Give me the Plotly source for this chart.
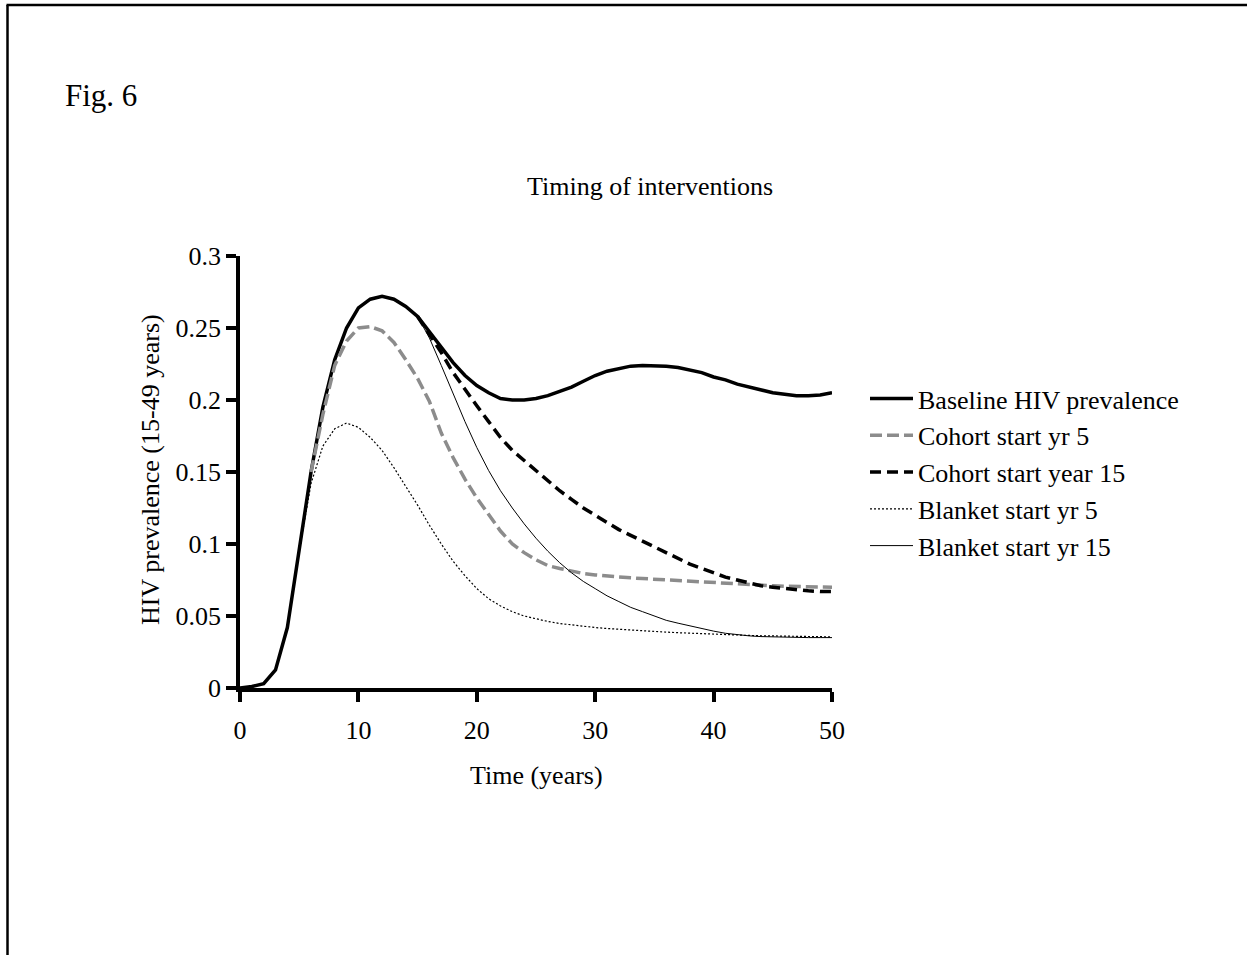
import plotly.graph_objects as go

# ---- data: HIV prevalence (15-49 years) by simulation year ----
years = list(range(0, 51))

baseline = [0, 0.001, 0.003, 0.0125, 0.042, 0.095, 0.15, 0.195, 0.228, 0.25,
            0.264, 0.27, 0.272, 0.27, 0.265, 0.258, 0.247, 0.236, 0.226, 0.217,
            0.21, 0.205, 0.201, 0.2, 0.2, 0.201, 0.203, 0.206, 0.209, 0.213,
            0.217, 0.22, 0.222, 0.2235, 0.224, 0.224, 0.2235, 0.2225, 0.221, 0.219,
            0.216, 0.214, 0.211, 0.209, 0.207, 0.205, 0.204, 0.203, 0.203, 0.2035,
            0.205]

years_from6 = list(range(6, 51))
cohort_yr5 = [0.15, 0.19, 0.224, 0.241, 0.25, 0.251, 0.248, 0.24, 0.228,
              0.215, 0.199, 0.177, 0.16, 0.145, 0.132, 0.12, 0.109, 0.1, 0.094,
              0.089, 0.085, 0.083, 0.081, 0.0795, 0.0785, 0.0777, 0.077, 0.0765, 0.076,
              0.0755, 0.075, 0.0745, 0.074, 0.0735, 0.073, 0.0726, 0.0722, 0.0718, 0.0714,
              0.071, 0.0707, 0.0704, 0.0702, 0.07, 0.07]

years_from5 = list(range(5, 51))
blanket_yr5 = [0.095, 0.142, 0.168, 0.18, 0.184, 0.181, 0.174, 0.165, 0.153, 0.14,
               0.127, 0.113, 0.1, 0.088, 0.078, 0.069, 0.062, 0.057, 0.053, 0.05,
               0.048, 0.0462, 0.0448, 0.0437, 0.0428, 0.042, 0.0413, 0.0407, 0.0402, 0.0397,
               0.0392, 0.0388, 0.0384, 0.038, 0.0376, 0.0373, 0.037, 0.0367, 0.0365, 0.0363,
               0.0361, 0.0359, 0.0358, 0.0357, 0.0356, 0.0355]

years_from15 = list(range(15, 51))
cohort_yr15 = [0.258, 0.246, 0.233, 0.219, 0.207, 0.196, 0.185, 0.174, 0.165, 0.158,
               0.151, 0.144, 0.137, 0.131, 0.125, 0.12, 0.115, 0.11, 0.106, 0.102,
               0.098, 0.094, 0.09, 0.086, 0.083, 0.08, 0.077, 0.075, 0.073, 0.071,
               0.07, 0.069, 0.068, 0.0675, 0.067, 0.067]
blanket_yr15 = [0.258, 0.243, 0.224, 0.204, 0.185, 0.167, 0.151, 0.137, 0.125, 0.114,
                0.104, 0.095, 0.087, 0.08, 0.074, 0.069, 0.064, 0.06, 0.056, 0.053,
                0.05, 0.047, 0.045, 0.043, 0.041, 0.0395, 0.038, 0.037, 0.0362, 0.0357,
                0.0354, 0.0352, 0.0351, 0.035, 0.035, 0.035]

x_ticks = [0, 10, 20, 30, 40, 50]
y_ticks = [0, 0.05, 0.1, 0.15, 0.2, 0.25, 0.3]
y_tick_labels = ["0", "0.05", "0.1", "0.15", "0.2", "0.25", "0.3"]

# ---- page geometry (pixels) ----
W, H = 1247, 955
L, R, T, B = 240, 415, 256, 267
PW, PH = W - L - R, H - T - B
FONT = "Liberation Serif, Times New Roman, serif"


def px_x(px):
    return (px - L) / PW


def px_y(py):
    return (H - B - py) / PH


series = [
    ("Baseline HIV prevalence", years, baseline, dict(color="black", width=3.5)),
    ("Cohort start yr 5", years_from6, cohort_yr5, dict(color="#8c8c8c", width=3.5, dash="12px,5px")),
    ("Cohort start year 15", years_from15, cohort_yr15, dict(color="black", width=3.5, dash="11px,6px")),
    ("Blanket start yr 5", years_from5, blanket_yr5, dict(color="black", width=1.2, dash="2px,2px")),
    ("Blanket start yr 15", years_from15, blanket_yr15, dict(color="black", width=1)),
]

fig = go.Figure()
for i, (name, xs, ys, line) in enumerate(series):
    fig.add_trace(go.Scatter(x=xs, y=ys, mode="lines", name=name, line=line,
                             legendgroup=f"g{i}", hoverinfo="skip"))

axis_common = dict(showline=True, linecolor="black", linewidth=3.5, ticks="outside",
                   ticklen=10, tickwidth=3.5, tickcolor="black", showgrid=False,
                   zeroline=False, tickfont=dict(family=FONT, size=26, color="black"))

fig.update_layout(
    width=W, height=H,
    margin=dict(l=L, r=R, t=T, b=B),
    paper_bgcolor="white", plot_bgcolor="white",
    font=dict(family=FONT, size=26, color="black"),
    xaxis=dict(range=[0, 50], tickvals=x_ticks, ticklabelstandoff=6, **axis_common),
    yaxis=dict(range=[0, 0.3], tickvals=y_ticks, ticktext=y_tick_labels,
               ticklabelstandoff=0, **axis_common),
    showlegend=True,
    legend=dict(x=px_x(865), y=px_y(375), xanchor="left", yanchor="top",
                font=dict(family=FONT, size=26, color="black"),
                bgcolor="rgba(0,0,0,0)", tracegroupgap=0, itemwidth=43),
    annotations=[
        dict(text="Fig. 6", xref="paper", yref="paper", x=px_x(63), y=px_y(95),
             xanchor="left", yanchor="middle", showarrow=False,
             font=dict(family=FONT, size=31, color="black")),
        dict(text="Timing of interventions", xref="paper", yref="paper",
             x=px_x(525), y=px_y(187), xanchor="left", yanchor="middle",
             showarrow=False, font=dict(family=FONT, size=26, color="black")),
        dict(text="Time (years)", xref="paper", yref="paper", x=px_x(536), y=px_y(775),
             xanchor="center", yanchor="middle", showarrow=False,
             font=dict(family=FONT, size=26, color="black")),
        dict(text="HIV prevalence (15-49 years)", xref="paper", yref="paper",
             x=px_x(150), y=px_y(470), xanchor="center", yanchor="middle",
             textangle=-90, showarrow=False,
             font=dict(family=FONT, size=26, color="black")),
    ],
    shapes=[
        # page frame: left and top rules
        dict(type="line", xref="paper", yref="paper", x0=px_x(7.5), y0=px_y(H),
             x1=px_x(7.5), y1=px_y(5), line=dict(color="black", width=2.5)),
        dict(type="line", xref="paper", yref="paper", x0=px_x(6.5), y0=px_y(5),
             x1=px_x(W), y1=px_y(5), line=dict(color="black", width=2.5)),
    ],
)

fig.write_html("out.html")
